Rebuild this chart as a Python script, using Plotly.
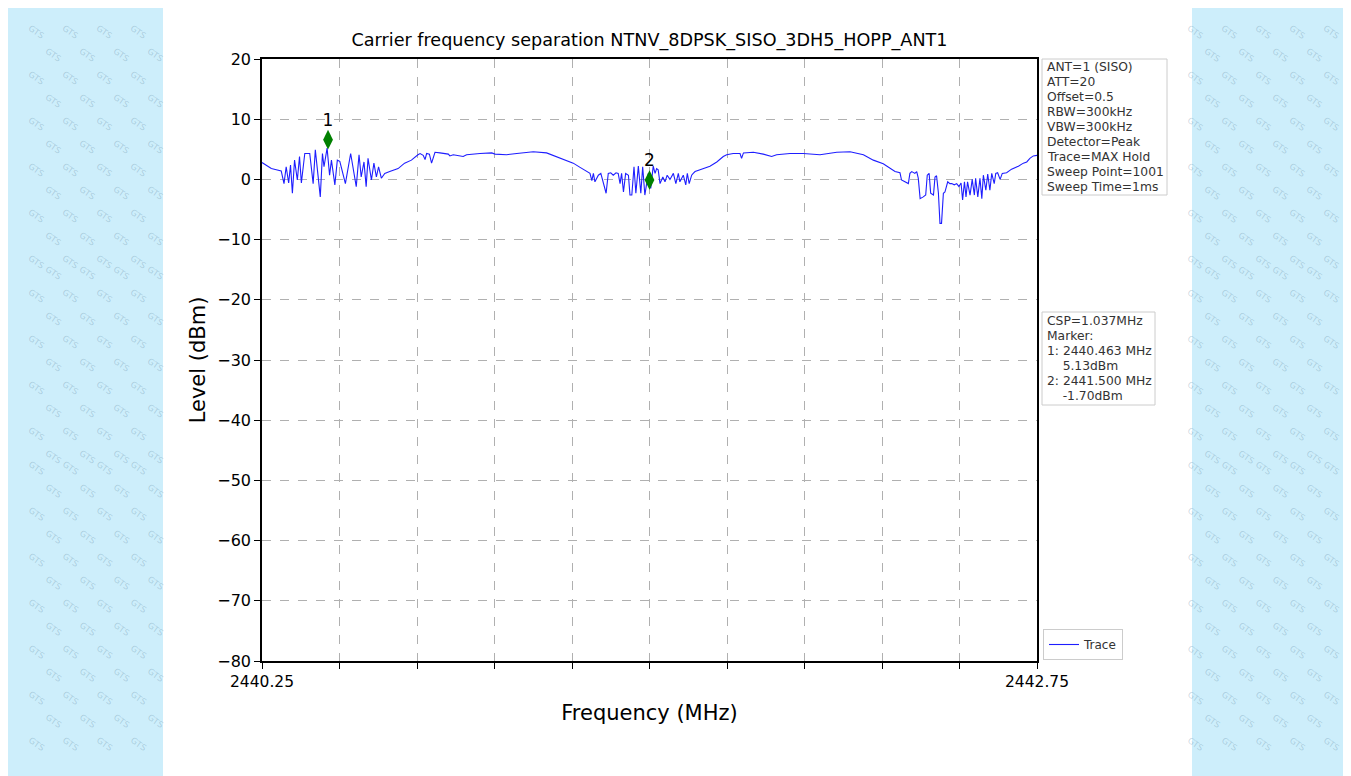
import plotly.graph_objects as go

# ---------------- data ----------------
freq_mhz = [
    2440.250, 2440.280, 2440.296, 2440.312, 2440.321, 2440.328, 2440.336, 2440.342, 2440.348, 2440.355,
    2440.364, 2440.371, 2440.377, 2440.388, 2440.404, 2440.415, 2440.422, 2440.438, 2440.445, 2440.450,
    2440.460, 2440.468, 2440.474, 2440.485, 2440.493, 2440.501, 2440.519, 2440.536, 2440.554, 2440.563,
    2440.570, 2440.579, 2440.586, 2440.592, 2440.603, 2440.611, 2440.619, 2440.626, 2440.635, 2440.646,
    2440.662, 2440.689, 2440.710, 2440.732, 2440.753,
    2440.760, 2440.770, 2440.776, 2440.781, 2440.790, 2440.797, 2440.808, 2440.824, 2440.851, 2440.856,
    2440.867, 2440.899, 2440.910, 2440.953, 2440.991, 2441.002, 2441.039, 2441.072, 2441.125, 2441.168,
    2441.211, 2441.254,
    2441.276, 2441.297, 2441.308, 2441.314, 2441.319, 2441.324, 2441.335, 2441.343, 2441.351, 2441.360,
    2441.367, 2441.375, 2441.383, 2441.392, 2441.399, 2441.405, 2441.410, 2441.416, 2441.423, 2441.432,
    2441.437, 2441.443, 2441.450, 2441.456, 2441.464, 2441.472, 2441.478, 2441.485, 2441.496, 2441.504,
    2441.512, 2441.518, 2441.523, 2441.528, 2441.534, 2441.543, 2441.550, 2441.557, 2441.566, 2441.577,
    2441.585, 2441.593, 2441.598, 2441.609, 2441.617, 2441.622, 2441.628, 2441.636, 2441.641, 2441.647,
    2441.663, 2441.695, 2441.717, 2441.738, 2441.749, 2441.770,
    2441.792, 2441.797, 2441.803, 2441.835, 2441.867, 2441.894, 2441.910, 2441.953, 2441.996, 2442.050,
    2442.104, 2442.147, 2442.190, 2442.222, 2442.254, 2442.286,
    2442.292, 2442.308, 2442.313, 2442.324, 2442.335, 2442.340, 2442.346, 2442.356, 2442.362, 2442.367,
    2442.373, 2442.383, 2442.391, 2442.396, 2442.402, 2442.407, 2442.416, 2442.421, 2442.426, 2442.432,
    2442.437, 2442.442, 2442.448, 2442.453, 2442.462, 2442.469, 2442.475, 2442.483, 2442.491, 2442.498,
    2442.505, 2442.510, 2442.516, 2442.521, 2442.526, 2442.534, 2442.541, 2442.548, 2442.552, 2442.559,
    2442.566, 2442.572, 2442.577, 2442.585, 2442.591, 2442.598, 2442.604, 2442.612, 2442.617, 2442.623,
    2442.631, 2442.638, 2442.652, 2442.668, 2442.690, 2442.706, 2442.717, 2442.727, 2442.738, 2442.750,
]
level_dbm = [
    2.8, 1.8, 1.6, 1.4, -0.7, 2.1, -0.6, 2.4, -2.3, 3.2,
    -0.1, 3.8, -0.6, 4.3, 4.3, -0.7, 4.9, -2.9, 4.3, 2.1,
    5.2, 0.7, 3.2, -0.9, 3.2, 3.0, -0.7, 4.3, -1.2, 4.1,
    0.4, 2.9, -1.2, 3.5, -0.1, 2.7, 0.4, 2.1, 0.2, 1.0,
    1.3, 1.8, 2.7, 3.2, 4.1,
    4.3, 4.0, 3.3, 4.3, 4.2, 2.7, 4.5, 4.4, 4.2, 3.9,
    4.1, 3.8, 4.1, 4.3, 4.4, 4.2, 4.1, 4.3, 4.6, 4.4,
    3.5, 2.7,
    2.0, 1.3, 1.0, -0.2, 1.0, -0.4, 0.7, 1.0, -0.7, -2.3,
    1.0, 1.1, 0.7, 1.1, 1.0, -0.7, 1.0, -2.1, 1.0, 0.7,
    -2.6, -2.6, 2.1, -2.3, 2.2, -2.3, 2.1, -2.6, 1.0, -1.5,
    2.2, 1.0, 1.8, 1.6, -0.7, 0.4, -0.4, 0.7, 0.0, 1.0,
    -0.7, 1.0, -0.4, 0.7, -0.9, 1.0, -0.7, 0.7, 1.0, 1.3,
    1.6, 2.2, 2.9, 3.8, 4.1, 4.3,
    4.3, 3.5, 4.4, 4.5, 4.2, 3.8, 4.1, 4.3, 4.3, 4.1,
    4.5, 4.6, 4.1, 3.2, 2.6, 1.6,
    1.3, 1.1, -0.1, -0.4, -0.7, 1.0, 1.3, 1.0, 1.3, 0.2,
    -3.2, -2.9, -2.6, 0.7, 1.0, -2.3, -2.6, 0.4, 0.6, -2.3,
    -7.3, -7.3, -2.3, -2.1, -0.4, -0.7, -0.7, -0.9, -0.7, -1.2,
    -0.6, -3.4, -0.4, -2.9, -0.4, -2.6, 0.0, -2.6, 0.2, -2.9,
    0.2, -3.2, 0.7, -1.8, 0.9, -1.8, 1.0, -0.7, 1.0, 1.1,
    0.0, 1.0, 1.1, 1.7, 2.2, 2.7, 2.9, 3.5, 3.9, 4.0,
]

marker_labels = ["1", "2"]
marker_freq = [2440.463, 2441.500]
marker_level_drawn = [6.6, -0.1]

x_tick_vals = [2440.25, 2440.50, 2440.75, 2441.00, 2441.25, 2441.50, 2441.75, 2442.00, 2442.25, 2442.50, 2442.75]
x_tick_text = ["2440.25", "", "", "", "", "", "", "", "", "", "2442.75"]
y_tick_vals = [20, 10, 0, -10, -20, -30, -40, -50, -60, -70, -80]
y_tick_text = ["20", "10", "0", "\u221210", "\u221220", "\u221230", "\u221240", "\u221250", "\u221260", "\u221270", "\u221280"]

title_text = "Carrier frequency separation NTNV_8DPSK_SISO_3DH5_HOPP_ANT1"
settings_lines = ["ANT=1 (SISO)", "ATT=20", "Offset=0.5", "RBW=300kHz", "VBW=300kHz",
                  "Detector=Peak", "Trace=MAX Hold", "Sweep Point=1001", "Sweep Time=1ms"]
result_lines = ["CSP=1.037MHz", "Marker:", "1: 2440.463 MHz", "\u00a0\u00a0\u00a0\u00a05.13dBm",
                "2: 2441.500 MHz", "\u00a0\u00a0\u00a0\u00a0-1.70dBm"]

# ---------------- layout geometry ----------------
OFF = 8                       # browser page margin around the figure
W, H = 1351 - OFF, 776 - OFF  # figure size in the 1351x776 window
L, R, T, B = 262, 1037, 59, 661  # plot area in page pixels
PW, PH = R - L, B - T


def px(xp):
    return (xp - L) / PW


def py(yp):
    return (B - yp) / PH


FONT = "DejaVu Sans"
BOX_FONT = dict(family=FONT, size=12.3, color="#333333")

fig = go.Figure()
fig.add_trace(go.Scatter(
    x=freq_mhz, y=level_dbm, mode="lines", name="Trace",
    line=dict(color="rgb(30,30,255)", width=1.1),
))
fig.add_trace(go.Scatter(
    x=marker_freq, y=marker_level_drawn, mode="markers+text", text=marker_labels,
    textposition="top center", textfont=dict(family=FONT, size=17, color="black"),
    marker=dict(symbol="diamond-tall", size=14, color="green", line=dict(width=0)),
    showlegend=False,
))

shapes = [
    dict(type="rect", xref="paper", yref="paper", x0=px(163), x1=px(1192), y0=py(790), y1=py(5),
         fillcolor="white", line=dict(width=0), layer="below"),
    dict(type="rect", xref="paper", yref="paper", x0=px(1042), x1=px(1167), y0=py(195), y1=py(59),
         fillcolor="white", line=dict(color="#cccccc", width=1)),
    dict(type="rect", xref="paper", yref="paper", x0=px(1042), x1=px(1155), y0=py(405), y1=py(312),
         fillcolor="white", line=dict(color="#cccccc", width=1)),
]

annotations = []
for i, line in enumerate(settings_lines):
    annotations.append(dict(xref="paper", yref="paper", x=px(1045), y=py(67 + 15 * i),
                            xanchor="left", yanchor="middle", text=line, showarrow=False,
                            font=BOX_FONT))
for i, line in enumerate(result_lines):
    annotations.append(dict(xref="paper", yref="paper", x=px(1045), y=py(321 + 15 * i),
                            xanchor="left", yanchor="middle", text=line, showarrow=False,
                            font=BOX_FONT))

# faint watermark text on the blue side strips
for side_x0, side_x1 in [(24, 150), (1208, 1345)]:
    row = 0
    yy = 20
    while yy < 772:
        xx = side_x0 + (17 if row % 2 else 0)
        while xx < side_x1:
            annotations.append(dict(xref="paper", yref="paper", x=px(xx), y=py(yy), text="GTS",
                                    showarrow=False, textangle=35,
                                    font=dict(family=FONT, size=8.5, color="rgba(95,135,160,0.33)")))
            xx += 34
        yy += 23
        row += 1

fig.update_layout(
    width=W, height=H,
    margin=dict(l=L - OFF, r=(W + OFF) - R, t=T - OFF, b=(H + OFF) - B, pad=0),
    paper_bgcolor="#cdeefb", plot_bgcolor="white",
    font=dict(family=FONT, color="black"),
    title=dict(text=title_text, x=px((L + R) / 2), xref="paper", xanchor="center",
               y=1 - (40 - OFF) / H, yanchor="middle", font=dict(family=FONT, size=17.6, color="black")),
    showlegend=True,
    legend=dict(x=px(1043), y=py(660), xanchor="left", yanchor="bottom",
                bgcolor="white", bordercolor="#cccccc", borderwidth=1,
                font=dict(family=FONT, size=12, color="#333333"), itemwidth=30),
    shapes=shapes,
    annotations=annotations,
)

fig.update_xaxes(
    range=[2440.25, 2442.75], tickvals=x_tick_vals, ticktext=x_tick_text,
    showline=True, linecolor="black", linewidth=1.5, mirror=True,
    ticks="outside", ticklen=6, tickwidth=1.2, tickcolor="black",
    showgrid=True, gridcolor="#b0b0b0", griddash="dash", gridwidth=0.8,
    zeroline=False, tickfont=dict(family=FONT, size=15.5, color="black"),
    title=dict(text="Frequency (MHz)", font=dict(family=FONT, size=21, color="black"), standoff=15),
)
fig.update_yaxes(
    range=[-80, 20], tickvals=y_tick_vals, ticktext=y_tick_text,
    showline=True, linecolor="black", linewidth=1.5, mirror=True,
    ticks="outside", ticklen=6, tickwidth=1.2, tickcolor="black",
    showgrid=True, gridcolor="#b0b0b0", griddash="dash", gridwidth=0.8,
    zeroline=False, tickfont=dict(family=FONT, size=16, color="black"),
    title=dict(text="Level (dBm)", font=dict(family=FONT, size=21, color="black"), standoff=6),
)

fig.write_html("out.html")
